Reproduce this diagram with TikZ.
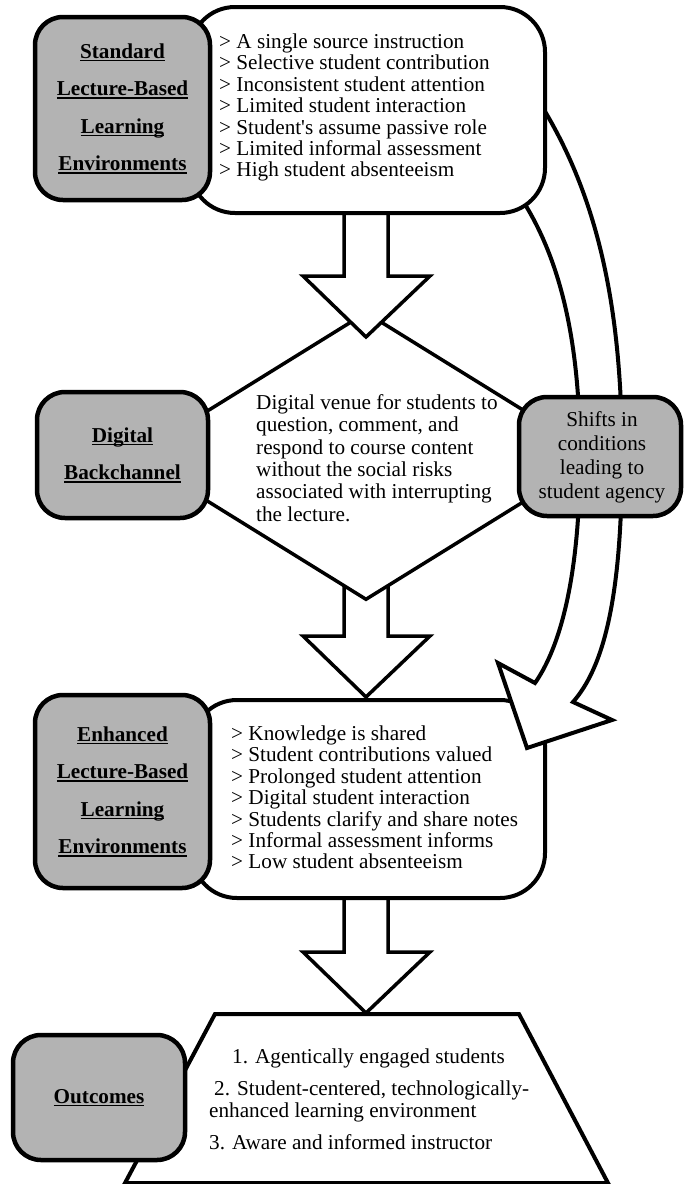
\documentclass[tikz,border=0pt]{standalone}
\usepackage{fontspec}
\setmainfont{Liberation Serif}
\usetikzlibrary{shapes.geometric}
\definecolor{boxgray}{RGB}{179,179,179}
\newcommand{\ulabel}[1]{\setbox0=\hbox{#1}\rlap{\rule[-3pt]{\wd0}{1.5pt}}\box0}
\newcommand{\blockarrow}[2]{%
  \draw[blockline] (344,#1) -- (344,{#2-61}) -- (303,{#2-61}) -- (366,#2)
    -- (430,{#2-61}) -- (388,{#2-61}) -- (388,#1);}

\begin{document}
\begin{tikzpicture}[x=1pt,y=-1pt,
    blockline/.style={draw,line width=3.5pt,fill=white,line join=miter},
    outline/.style={draw,line width=4pt,fill=white},
    graybox/.style={draw,line width=4.5pt,fill=boxgray,rounded corners=28pt,
      inner sep=0pt,align=center,font=\bfseries\fontsize{21.2}{37.5}\selectfont},
    listbox/.style={outline,rounded corners=45pt,inner sep=0pt},
    listtext/.style={inner sep=0pt,align=left,font=\fontsize{21.2}{21.4}\selectfont}]
    \useasboundingbox (0,0) rectangle (684,1184);

    % backchannel down to enhanced
    \blockarrow{575}{697}
    \node[outline,line width=3.5pt,diamond,minimum width=464pt,minimum height=288pt,
      inner sep=0pt] (venue) at (366,456) {};
    % standard down to backchannel
    \blockarrow{205}{337}
    % enhanced down to outcomes
    \blockarrow{890}{1013}

    \draw[outline] (215,1014) -- (519,1014) -- (608,1183) -- (125,1183) -- cycle;
    \node[graybox,minimum width=172pt,minimum height=125pt] (outlabel) at (99,1097.5)
      {\ulabel{Outcomes}};

    \node[listbox,minimum width=353pt,minimum height=198pt] (enhlist) at (368.5,799) {};
    \node[graybox,minimum width=175pt,minimum height=193pt] (enhlabel) at (122.5,791.5)
      {\ulabel{Enhanced}\\\ulabel{Lecture-Based}\\\ulabel{Learning}\\\ulabel{Environments}};

    % the shift arrow on the right
    \draw[outline,line join=miter] (538,100) .. controls (595,190) and (622,300) .. (622,456)
      .. controls (622,600) and (603,668) .. (573,702) -- (612,720) -- (527,748) -- (498,663)
      -- (535,683) .. controls (565,640) and (580,560) .. (580,456)
      .. controls (580,340) and (560,250) .. (512,185) -- cycle;

    \node[listbox,minimum width=355pt,minimum height=206pt] (stdlist) at (367.5,110) {};
    \node[graybox,minimum width=175pt,minimum height=183pt] (stdlabel) at (122.5,108.5)
      {\ulabel{Standard}\\\ulabel{Lecture-Based}\\\ulabel{Learning}\\\ulabel{Environments}};

    \node[graybox,minimum width=171pt,minimum height=126pt] (diglabel) at (122.5,455)
      {\ulabel{Digital}\\\ulabel{Backchannel}};
    \node[graybox,font=\fontsize{21.2}{24}\selectfont,minimum width=162pt,minimum height=119pt]
      (shifts) at (600,456.5) {};

    % texts
    \node[listtext,anchor=north west] (stdtext) at (219,33.5)
      {> A single source instruction\\> Selective student contribution\\
       > Inconsistent student attention\\> Limited student interaction\\
       > Student\textquotesingle s assume passive role\\> Limited informal assessment\\
       > High student absenteeism};
    \node[listtext,anchor=north west] (enhtext) at (231,725.5)
      {> Knowledge is shared\\> Student contributions valued\\
       > Prolonged student attention\\> Digital student interaction\\
       > Students clarify and share notes\\> Informal assessment informs\\
       > Low student absenteeism};
    \node[listtext,anchor=north west,font=\fontsize{21.2}{22.3}\selectfont] (venuetext) at (256,394.5)
      {Digital venue for students to\\question, comment, and\\respond to course content\\
       without the social risks\\associated with interrupting\\the lecture.};
    \node[listtext,align=center,anchor=north,font=\fontsize{21.2}{24}\selectfont] (shifttext)
      at (602,411.5) {Shifts in\\conditions\\leading to\\student agency};
    \node[listtext,anchor=north west,font=\fontsize{21.2}{22}\selectfont] (outtext) at (209,1048.5)
      {\hspace*{23pt}1. Agentically engaged students\\[10pt]
       \hspace*{5pt}2. Student-centered, technologically-\\enhanced learning environment\\[10pt]
       3. Aware and informed instructor};
\end{tikzpicture}
\end{document}
